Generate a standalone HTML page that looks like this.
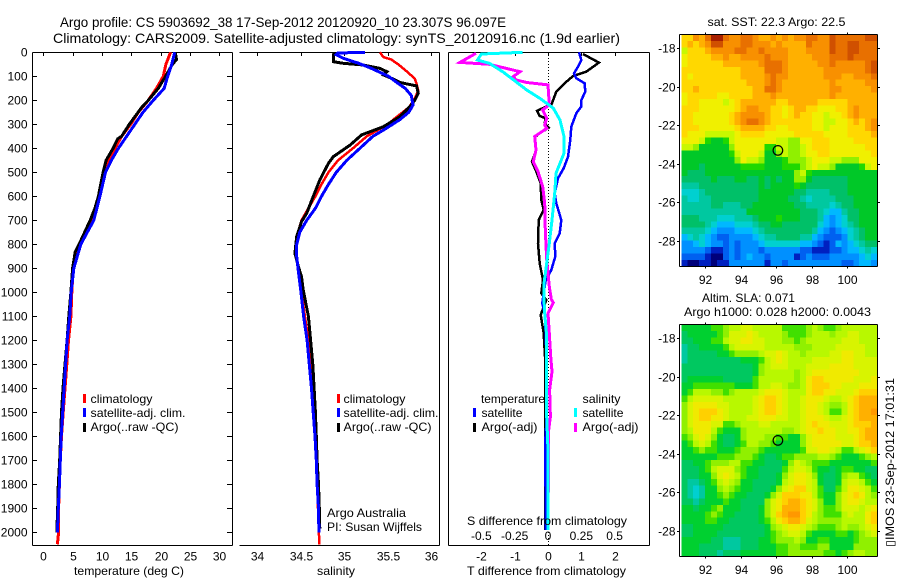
<!DOCTYPE html>
<html>
<head>
<meta charset="utf-8">
<title>Argo profile 5903692_38</title>
<style>
html,body{margin:0;padding:0;background:#fff;}
svg{display:block;}
text{font-family:"Liberation Sans",sans-serif;font-size:12px;fill:#000;}
.title{font-size:14px;}
</style>
</head>
<body>
<svg id="chart" width="900" height="580" viewBox="0 0 900 580" xmlns="http://www.w3.org/2000/svg">
<rect width="900" height="580" fill="#fff"/>
<text class="title" x="60" y="27" textLength="446" lengthAdjust="spacingAndGlyphs">Argo profile: CS 5903692_38 17-Sep-2012 20120920_10 23.307S 96.097E</text>
<text class="title" x="53" y="43" textLength="567" lengthAdjust="spacingAndGlyphs">Climatology: CARS2009. Satellite-adjusted climatology: synTS_20120916.nc (1.9d earlier)</text>

<g id="p1"></g>
<g id="p2"></g>
<g id="p3"></g>
<g id="m1"></g>
<g id="m2"></g>

<text x="74" y="575" textLength="110" lengthAdjust="spacingAndGlyphs">temperature (deg C)</text>
<text x="317" y="575" textLength="38" lengthAdjust="spacingAndGlyphs">salinity</text>
<text x="467" y="575" textLength="159" lengthAdjust="spacingAndGlyphs">T difference from climatology</text>
<text x="467" y="525" textLength="160" lengthAdjust="spacingAndGlyphs">S difference from climatology</text>

<g shape-rendering="crispEdges">
<rect x="83" y="394" width="3" height="9" fill="#f00"/><rect x="83" y="408" width="3" height="9" fill="#00f"/><rect x="83" y="423" width="3" height="9" fill="#000"/>
<text x="90.5" y="403" textLength="62" lengthAdjust="spacingAndGlyphs">climatology</text>
<text x="90.5" y="417" textLength="95" lengthAdjust="spacingAndGlyphs">satellite-adj. clim.</text>
<text x="90.5" y="431" textLength="88" lengthAdjust="spacingAndGlyphs">Argo(..raw -QC)</text>
</g>
<g shape-rendering="crispEdges">
<rect x="337" y="394" width="3" height="9" fill="#f00"/><rect x="337" y="408" width="3" height="9" fill="#00f"/><rect x="337" y="423" width="3" height="9" fill="#000"/>
<text x="343.5" y="403" textLength="62" lengthAdjust="spacingAndGlyphs">climatology</text>
<text x="343.5" y="417" textLength="95" lengthAdjust="spacingAndGlyphs">satellite-adj. clim.</text>
<text x="343.5" y="431" textLength="88" lengthAdjust="spacingAndGlyphs">Argo(..raw -QC)</text>
</g>
<g shape-rendering="crispEdges">
<text x="481" y="403" textLength="64" lengthAdjust="spacingAndGlyphs">temperature</text>
<rect x="473" y="408" width="3" height="9" fill="#00f"/><rect x="473" y="423" width="3" height="9" fill="#000"/>
<text x="481.5" y="417" textLength="41" lengthAdjust="spacingAndGlyphs">satellite</text>
<text x="481.5" y="431" textLength="56" lengthAdjust="spacingAndGlyphs">Argo(-adj)</text>
<text x="582.5" y="403" textLength="38" lengthAdjust="spacingAndGlyphs">salinity</text>
<rect x="574" y="408" width="3" height="9" fill="#0ff"/><rect x="574" y="423" width="3" height="9" fill="#f0f"/>
<text x="582.5" y="417" textLength="41" lengthAdjust="spacingAndGlyphs">satellite</text>
<text x="582.5" y="431" textLength="56" lengthAdjust="spacingAndGlyphs">Argo(-adj)</text>
</g>
<text x="327" y="517" textLength="79" lengthAdjust="spacingAndGlyphs">Argo Australia</text>
<text x="327" y="531" textLength="95" lengthAdjust="spacingAndGlyphs">PI: Susan Wijffels</text>

<text x="707.5" y="26" textLength="138" lengthAdjust="spacingAndGlyphs">sat. SST: 22.3 Argo: 22.5</text>
<text x="702" y="302" textLength="93" lengthAdjust="spacingAndGlyphs">Altim. SLA: 0.071</text>
<text x="684" y="316" textLength="187" lengthAdjust="spacingAndGlyphs">Argo h1000: 0.028 h2000: 0.0043</text>
<text transform="translate(894,547) rotate(-90)" textLength="169" lengthAdjust="spacingAndGlyphs">▯IMOS 23-Sep-2012 17:01:31</text>
</svg>

<script>
/* ---- axis tick data ---- */
const depthTicks = [0,100,200,300,400,500,600,700,800,900,1000,1100,1200,1300,1400,1500,1600,1700,1800,1900,2000];
const tempTicks = [0,5,10,15,20,25,30];
const salTicks = [34,34.5,35,35.5,36];
const salTickLabels = ['34','34.5','35','35.5','36'];
const tDiffTicks = [-2,-1,0,1,2];
const sDiffTicks = [-0.5,-0.25,0,0.25,0.5];
const sDiffTickLabels = ['-0.5','-0.25','0','0.25','0.5'];
const lonTicks = [92,94,96,98,100];
const latTicks = [18,20,22,24,26,28];
const argoLon = [96.097];
const argoLat = [23.307];

/* ---- temperature profiles ---- */
const tempClimDepth = [0,50,100,150,200,250,300,350,400,450,500,600,700,800,850,900,1000,1100,1200,1300,1400,1500,1600,1700,1800,1900,2000,2050];
const tempClim = [21.7,20.9,20.45,19.3,17.9,16.2,14.9,13.35,12.2,11.2,10.5,9.5,8.35,6.25,5.6,5.1,4.85,4.7,4.3,4.0,3.7,3.4,3.1,2.9,2.75,2.6,2.6,2.4];
const tempSatDepth = [0,50,100,150,200,250,300,350,400,450,500,600,700,800,850,900,1000,1100,1200,1300,1400,1500,1600,1700,1800,1900,2000];
const tempSat = [22.4,21.9,21.2,20.6,18.75,17.0,15.6,14.2,12.8,11.6,10.6,9.65,8.6,6.4,5.8,5.2,4.75,4.5,4.05,3.8,3.55,3.3,3.05,2.9,2.75,2.55,2.4];
const tempArgoDepth = [0,30,50,100,150,200,230,300,350,360,400,450,470,500,600,650,700,800,830,900,1000,1100,1200,1300,1400,1500,1600,1700,1800,1900,2000];
const tempArgo = [22.5,22.7,22.0,20.85,19.6,17.9,16.75,14.65,13.35,12.7,11.9,10.7,10.5,10.2,9.4,8.8,8.0,6.1,5.45,5.0,4.7,4.35,4.05,3.7,3.35,3.1,2.95,2.8,2.55,2.45,2.3];

/* ---- salinity profiles ---- */
const salClimDepth = [0,20,30,50,80,110,130,160,200,230,270,300,350,400,450,500,550,600,650,700,750,800,850,900,1000,1100,1200,1300,1400,1500,1600,1700,1800,1900,2000,2050];
const salClim = [35.41,35.45,35.54,35.62,35.72,35.81,35.83,35.85,35.80,35.74,35.6,35.5,35.26,35.10,34.93,34.82,34.74,34.67,34.59,34.51,34.47,34.455,34.45,34.47,34.51,34.55,34.59,34.615,34.635,34.655,34.665,34.68,34.69,34.70,34.71,34.715];
const salSatDepth = [0,3,10,25,45,65,100,130,150,180,220,250,280,320,350,400,450,500,550,600,650,700,750,800,850,900,1000,1100,1200,1300,1400,1500,1600,1700,1800,1900,2000];
const salSat = [35.24,34.93,34.91,34.99,35.16,35.30,35.51,35.62,35.70,35.77,35.79,35.74,35.64,35.47,35.33,35.18,35.03,34.91,34.82,34.74,34.67,34.57,34.49,34.455,34.455,34.47,34.505,34.535,34.575,34.6,34.625,34.645,34.665,34.68,34.69,34.705,34.71];
const salArgoDepth = [1,11,39,46,53,67,81,94,111,126,140,171,199,226,268,310,344,386,435,462,532,601,671,706,768,837,893,935,990,1100,1200,1300,1400,1500,1600,1700,1800,1900,1985];
const salArgo = [34.89,34.875,34.875,34.99,35.22,35.41,35.49,35.45,35.56,35.64,35.83,35.85,35.81,35.755,35.64,35.45,35.2,35.07,34.875,34.82,34.72,34.645,34.57,34.51,34.455,34.435,34.475,34.51,34.53,34.59,34.615,34.64,34.655,34.67,34.68,34.69,34.705,34.715,34.72];

/* ---- difference profiles ---- */
const tSatDiffDepth = [0,32,60,88,108,129,164,199,226,254,310,365,435,483,525,588,629,699,754,796,851,907,949,1004,1046,1087,1171,1268,1546,1615,1990];
const tSatDiff = [0.93,1.00,0.90,0.78,0.85,1.10,1.12,1.00,1.00,0.85,0.70,0.67,0.60,0.47,0.30,0.20,0.25,0.40,0.35,0.20,0.22,0.10,-0.07,-0.13,-0.17,-0.10,-0.07,-0.05,-0.05,-0.08,-0.07];
const tArgoDiffDepth = [7,43,81,99,129,164,219,226,244,265,275,296,314,337,354,407,456,497,546,615,657,699,796,879,949,1004,1032,1094,1171,1268,1657,1990];
const tArgoDiff = [1.05,1.53,1.15,0.75,0.50,0.25,0.10,-0.05,-0.33,-0.25,-0.07,-0.10,0.02,-0.25,-0.40,-0.35,-0.48,-0.35,-0.22,-0.20,-0.13,-0.28,-0.30,-0.25,-0.15,-0.20,-0.05,-0.22,-0.13,-0.09,-0.09,-0.08];
const sArgoDiffDepth = [4,42,50,81,101,115,126,136,219,240,275,303,317,351,407,456,497,560,629,740,865,976,1029,1043,1087,1171,1268,1330,1407,1518,1573,1990];
const sArgoDiff = [-0.54,-0.66,-0.44,-0.21,-0.26,-0.24,-0.16,0,0.01,-0.04,-0.01,-0.025,-0.01,-0.10,-0.09,-0.11,-0.075,-0.04,-0.025,-0.02,-0.01,0.01,0.025,0.04,0,0.01,0.02,0.03,0.012,0.018,0.005,0];
const sSatDiffDepth = [0,7,32,46,81,108,157,192,233,282,351,421,504,588,699,796,879,963,1029,1087,1184,1518,1657,1990];
const sSatDiff = [-0.19,-0.50,-0.53,-0.44,-0.34,-0.275,-0.16,-0.06,0.04,0.09,0.12,0.12,0.06,0.05,0.03,0.01,-0.01,-0.03,-0.03,-0.025,-0.01,-0.01,0,0];

/* ---- map colour levels (rows north to south) ---- */
const sstColors = ['#00007a','#0020c0','#0060f0','#0090ff','#00b8ff','#00d0d0','#00c8a0','#00c068','#00c828','#20d800','#90f000','#c8f800','#f0f000','#ffd800','#ffb000','#f89000','#e87000','#d05000','#a82000'];
const slaColors = ['#00007a','#0020c0','#0060f0','#0090ff','#00b8ff','#00d0d0','#00c8a0','#00c860','#00d030','#40e000','#90f000','#b8f800','#d8f400','#f0ea00','#ffd000','#ffb000','#ff9800','#d05000','#a82000'];
const sstGrid = [
[13,13,15,14,16,18,18,16,15,15,16,16,15,14,14,15,14,15,14,15,15,16,16,15,15,17,16,16,16,16,16,17,17],
[13,14,13,14,15,17,17,15,15,15,16,16,15,15,15,14,15,14,14,14,14,16,15,15,15,17,16,16,17,17,16,16,16],
[11,13,13,13,14,15,15,15,15,16,16,15,15,16,15,15,15,15,14,14,14,15,15,15,15,17,16,16,17,17,16,16,16],
[12,13,13,13,13,14,14,15,14,14,15,15,15,15,16,15,15,15,14,14,14,14,15,15,15,16,16,16,17,16,16,16,16],
[12,13,13,13,13,13,13,14,14,14,14,14,14,15,16,16,16,15,14,14,14,14,14,15,15,16,15,15,15,15,15,16,17],
[13,13,13,13,13,13,13,13,13,13,14,14,14,14,16,16,16,15,14,14,14,14,14,14,15,15,15,15,15,15,15,16,17],
[13,12,13,13,13,13,13,13,13,13,14,14,14,14,15,16,15,15,14,14,14,14,14,14,15,15,15,14,14,15,15,15,16],
[13,13,13,13,13,13,13,13,13,13,13,14,14,14,15,16,15,14,14,14,14,14,14,14,14,15,14,14,14,14,14,15,15],
[13,13,14,13,13,13,13,13,13,13,13,13,14,14,16,16,15,14,14,14,14,14,14,14,14,15,15,14,14,14,14,14,15],
[12,13,13,13,13,13,12,12,13,13,13,13,14,14,14,15,14,14,14,14,14,14,14,14,14,15,14,14,14,14,14,14,14],
[12,13,13,12,12,12,12,11,12,13,14,14,14,14,14,14,13,13,14,14,14,14,14,13,13,13,13,13,14,14,14,14,14],
[13,13,13,12,12,12,12,12,12,13,14,15,15,14,14,13,13,12,13,14,14,13,13,12,12,12,13,13,14,15,14,14,14],
[13,13,12,12,12,12,12,12,13,14,15,15,15,15,14,13,13,12,13,14,13,13,12,12,11,12,12,13,14,15,14,14,14],
[13,13,12,12,12,12,12,12,13,14,15,16,16,15,14,13,13,13,13,13,13,13,12,12,11,11,12,12,13,14,13,14,15],
[13,13,13,12,12,12,12,12,12,13,14,14,14,14,13,13,12,12,13,13,13,13,12,12,11,12,12,12,13,13,13,14,15],
[13,12,12,12,11,11,11,11,11,12,13,13,13,13,12,12,12,12,12,13,13,13,13,13,12,12,12,12,13,13,13,13,14],
[12,12,12,11,9,8,8,9,11,12,12,12,12,12,12,12,11,11,10,10,12,12,13,13,13,12,12,12,12,13,13,13,13],
[11,11,10,8,8,8,8,8,10,12,12,12,12,12,9,9,11,11,10,10,11,12,13,13,13,12,12,12,12,12,12,13,13],
[8,8,8,8,8,8,8,8,9,11,12,12,12,11,8,8,10,11,10,10,11,12,12,13,13,12,12,12,12,12,12,12,13],
[8,8,8,8,8,8,8,8,8,10,12,11,11,10,8,8,8,9,10,10,10,11,12,12,12,11,11,10,10,10,12,12,12],
[8,8,8,7,8,8,8,8,8,8,9,9,9,9,8,8,8,9,9,9,10,11,12,11,11,10,8,8,8,8,9,11,12],
[8,7,7,7,8,8,8,8,8,8,8,8,8,8,8,8,8,8,8,10,11,9,8,8,8,8,8,8,8,8,8,8,8],
[7,7,7,7,7,8,7,7,7,8,8,7,7,8,7,8,7,8,8,10,10,8,7,7,7,7,7,7,8,8,8,8,8],
[6,6,6,7,7,7,7,7,7,7,7,7,7,8,7,8,8,8,8,9,8,7,7,7,7,7,7,7,8,8,8,8,8],
[5,5,5,6,7,7,7,7,7,7,7,7,7,8,8,8,8,8,8,7,7,6,6,6,6,7,7,7,8,8,8,8,8],
[6,5,5,6,6,7,7,7,7,7,7,7,7,8,8,8,8,8,7,7,6,5,6,6,6,6,7,7,7,8,8,8,8],
[6,6,6,6,6,7,7,6,6,6,7,7,8,8,8,8,8,8,8,7,7,6,6,6,6,5,6,7,7,8,8,8,8],
[6,6,6,6,6,6,6,6,6,6,6,8,8,8,8,8,8,8,8,8,7,7,7,6,5,4,4,6,7,7,8,8,8],
[7,7,7,6,6,6,5,5,5,6,6,6,7,8,8,8,9,8,8,8,7,7,7,6,4,3,4,5,7,7,8,8,8],
[7,7,7,7,6,5,4,4,4,5,5,5,6,7,7,8,8,7,7,7,7,7,7,5,4,3,4,5,6,7,8,8,8],
[6,6,6,6,5,4,3,3,3,4,4,4,5,6,7,7,7,7,7,7,7,7,6,4,3,2,3,4,5,6,7,8,8],
[4,5,6,5,4,3,2,2,3,3,3,3,4,5,6,6,7,7,7,7,6,6,4,3,2,2,2,3,5,6,7,8,8],
[3,3,4,5,4,3,3,2,3,2,3,3,3,4,5,5,5,5,5,5,4,4,3,2,1,2,4,3,4,5,6,7,7],
[3,3,3,3,2,1,1,2,3,2,3,3,3,2,3,3,3,3,3,3,2,2,1,1,1,2,2,3,4,4,5,6,5],
[2,2,2,2,1,0,0,2,3,2,3,4,3,3,2,3,3,3,3,1,2,3,2,2,2,3,3,3,3,3,4,5,4],
[1,0,0,1,1,0,1,1,3,3,3,3,3,3,1,3,3,2,3,3,3,3,3,3,3,3,3,2,2,3,4,4,3]
];
const slaGrid = [
[8,8,8,8,8,9,9,10,11,11,12,12,11,11,11,11,11,9,9,9,9,10,11,10,9,9,10,11,11,11,11,11,11],
[7,8,8,8,8,8,9,10,12,12,12,13,12,11,11,11,11,10,9,9,9,10,11,11,11,10,11,11,12,12,11,11,11],
[7,7,8,8,8,9,9,11,12,12,13,13,12,12,11,11,11,10,10,9,10,11,11,11,11,11,11,12,12,12,11,11,11],
[6,7,7,8,8,8,8,9,11,12,12,12,12,12,11,11,11,11,11,10,10,10,11,11,11,11,12,12,12,12,12,11,11],
[6,7,7,7,7,7,8,8,9,10,10,10,10,11,12,12,13,12,11,11,10,11,11,11,11,12,12,13,13,12,12,11,11],
[6,7,7,7,7,7,7,7,7,7,8,8,8,9,11,12,13,12,11,11,11,11,12,12,12,12,12,13,13,12,12,12,12],
[7,7,7,7,7,7,7,7,7,7,7,7,8,10,11,12,12,12,11,11,11,12,12,12,12,13,13,13,13,12,12,12,12],
[7,7,7,7,7,7,7,7,7,7,7,7,8,10,11,11,11,11,11,10,11,12,13,13,13,13,13,13,13,13,12,12,12],
[7,8,8,8,8,8,8,7,7,7,7,7,9,11,11,11,11,11,11,10,11,13,14,14,13,13,13,13,13,12,12,12,13],
[8,8,9,9,9,9,9,9,9,8,8,8,9,11,11,12,12,11,10,10,11,13,14,14,14,13,13,12,12,12,13,13,13],
[8,9,11,11,11,10,10,9,10,11,11,11,11,12,13,13,13,12,11,11,11,13,14,14,13,13,12,12,12,13,14,14,14],
[9,11,12,12,12,12,12,11,11,11,11,11,12,13,14,14,13,12,11,11,12,13,13,13,12,11,11,12,13,14,15,15,15],
[10,12,13,13,13,13,12,12,11,11,11,11,12,13,14,14,13,12,11,11,12,13,13,12,11,10,10,11,13,14,15,15,15],
[10,12,13,14,14,14,13,12,11,11,11,11,12,13,14,14,13,12,11,11,12,13,13,12,11,9,9,11,13,14,15,15,16],
[10,12,13,14,14,13,13,12,11,11,11,12,12,13,13,13,12,12,11,11,12,13,13,13,12,11,11,12,13,14,15,15,15],
[10,12,13,13,13,12,12,9,9,10,11,11,11,12,12,11,11,11,11,11,12,13,14,13,13,12,12,12,13,14,14,14,15],
[10,11,13,13,13,11,9,8,8,8,10,11,11,11,11,11,11,10,10,11,12,13,13,14,13,13,12,12,13,13,14,15,15],
[9,10,12,13,12,10,8,7,7,8,10,11,11,11,10,10,9,9,8,8,10,12,13,13,13,13,12,12,12,13,14,15,15],
[8,9,11,12,11,9,8,7,7,8,9,11,11,10,10,9,8,8,8,8,10,12,13,13,13,13,13,12,12,13,14,14,15],
[8,8,9,10,9,9,8,8,8,9,10,10,10,9,8,8,8,8,8,8,9,12,12,13,13,12,11,9,9,11,12,13,14],
[8,8,8,8,8,8,9,9,9,10,10,10,9,8,7,7,8,9,9,10,10,10,10,11,11,10,9,8,8,8,9,10,11],
[7,7,8,8,9,10,10,10,11,11,9,9,8,8,7,7,7,8,10,12,11,10,9,9,9,8,8,8,8,8,8,8,9],
[7,7,7,8,9,11,12,12,12,10,9,8,8,7,7,7,7,9,11,12,12,11,9,8,8,7,8,9,9,8,8,7,7],
[7,7,7,8,8,10,12,13,12,11,9,8,8,7,7,7,8,10,12,13,13,12,10,8,7,7,8,10,11,11,9,8,7],
[7,6,6,7,8,9,11,12,11,10,8,8,7,7,7,7,8,11,12,13,13,12,11,8,7,7,8,11,12,12,11,9,8],
[7,6,5,6,8,8,10,11,10,9,8,8,7,7,7,8,10,12,13,14,14,12,11,9,7,7,9,11,13,13,12,11,9],
[7,6,5,6,8,8,9,10,9,8,8,7,7,7,8,10,12,14,14,14,13,13,11,9,8,8,10,12,13,14,13,11,10],
[7,7,6,7,8,8,8,9,8,8,7,7,7,7,10,12,13,14,15,15,14,13,12,10,8,8,10,12,13,13,12,11,11],
[8,8,7,8,8,9,10,8,8,8,7,7,7,8,10,12,13,15,15,15,14,13,12,10,9,9,10,12,12,12,11,12,13],
[8,8,8,8,9,10,9,8,8,7,7,7,7,8,10,12,14,15,16,16,14,13,11,10,9,9,9,11,12,11,11,13,14],
[8,8,8,8,9,9,8,8,7,7,7,7,7,8,9,11,13,14,15,15,14,12,11,10,10,10,10,11,11,11,11,13,14],
[7,7,8,8,8,8,8,7,7,7,7,7,7,7,8,10,11,12,13,13,12,11,10,9,9,9,10,11,10,10,11,12,13],
[7,7,8,8,8,8,7,7,7,7,7,7,7,7,8,9,10,11,12,12,11,9,8,8,8,8,9,9,8,9,10,11,12],
[8,8,8,8,8,7,7,6,6,6,7,7,7,8,8,9,10,10,10,11,10,8,8,9,9,8,8,8,8,9,10,10,10],
[8,8,8,7,7,7,7,6,6,6,7,7,7,8,8,8,9,9,10,10,9,9,9,10,10,8,8,8,8,10,10,10,10],
[8,8,8,7,7,7,6,7,7,7,8,8,8,8,8,8,9,9,10,10,10,10,10,10,9,9,8,9,10,11,11,10,10]
];

/* ---- scales ---- */
const NS = 'http://www.w3.org/2000/svg';
function yDepth(d){ return 52.3 + d*0.24; }
function xTemp(t){ return 43.3 + t*5.867; }
function xSal(s){ return 257 + (s-34)*87.17; }
function xTDiff(t){ return 548 + t*33.3; }
function xSDiff(s){ return 548 + s*133.3; }
function xLon(lon){ return 705 + (lon-92)*17.79; }
function yLat(lat, top){ return top + 14 + (lat-18)*19.3; }

function mk(parent, tag){
  const el = document.createElementNS(NS, tag);
  parent.appendChild(el);
  return el;
}
function axisLine(parent, x1, y1, x2, y2){
  const l = mk(parent, 'line');
  l.setAttribute('x1', x1); l.setAttribute('y1', y1);
  l.setAttribute('x2', x2); l.setAttribute('y2', y2);
  l.setAttribute('stroke', '#000');
  l.setAttribute('stroke-width', 1);
  l.setAttribute('shape-rendering', 'crispEdges');
  
  
  return l;
}
function tickLabel(parent, x, y, str, anchor){
  const t = mk(parent, 'text');
  t.setAttribute('x', x); t.setAttribute('y', y);
  t.setAttribute('text-anchor', anchor);
  t.textContent = str;
  
  
  return t;
}
function profile(parent, depths, vals, xf, color, w, name){
  const p = mk(parent, 'polyline');
  p.setAttribute('points', depths.map((d,i)=> xf(vals[i]).toFixed(1)+','+yDepth(d).toFixed(1)).join(' '));
  p.setAttribute('fill', 'none');
  p.setAttribute('stroke', color);
  p.setAttribute('stroke-width', w);
  p.setAttribute('stroke-linejoin', 'miter');
  p.setAttribute('shape-rendering', 'crispEdges');
  
  
}

const p1 = document.getElementById('p1');
const p2 = document.getElementById('p2');
const p3 = document.getElementById('p3');

/* panel 1 frame */
axisLine(p1, 32.5, 52.5, 232.5, 52.5);
axisLine(p1, 32.5, 545.5, 232.5, 545.5);
axisLine(p1, 32.5, 52.5, 32.5, 545.5);
axisLine(p1, 232.5, 52.5, 232.5, 545.5);
depthTicks.forEach(d=>{
  const y = Math.round(yDepth(d))+0.5;
  axisLine(p1, 32.5, y, 37, y);
  axisLine(p1, 227, y, 232.5, y);
  tickLabel(p1, 27.5, y+4, String(d), 'end');
});
tempTicks.forEach(t=>{
  const x = Math.round(xTemp(t))+0.5;
  axisLine(p1, x, 52.5, x, 56);
  tickLabel(p1, x, 560.5, String(t), 'middle');
});
profile(p1, tempClimDepth, tempClim, xTemp, '#f00', 3, 'temperature-climatology-line');
profile(p1, tempArgoDepth, tempArgo, xTemp, '#000', 3, 'temperature-argo-line');
profile(p1, tempSatDepth, tempSat, xTemp, '#00f', 3, 'temperature-satellite-line');

/* panel 2 frame */
axisLine(p2, 239.5, 52.5, 439.5, 52.5);
axisLine(p2, 239.5, 545.5, 439.5, 545.5);
axisLine(p2, 439.5, 52.5, 439.5, 545.5);
salTicks.forEach((s,i)=>{
  const x = Math.round(xSal(s))+0.5;
  axisLine(p2, x, 52.5, x, 56);
  tickLabel(p2, x, 560.5, salTickLabels[i], 'middle');
});
profile(p2, salClimDepth, salClim, xSal, '#f00', 2.5, 'salinity-climatology-line');
profile(p2, salArgoDepth, salArgo, xSal, '#000', 3, 'salinity-argo-line');
profile(p2, salSatDepth, salSat, xSal, '#00f', 3, 'salinity-satellite-line');

/* panel 3 frame */
axisLine(p3, 448.5, 52.5, 649.5, 52.5);
axisLine(p3, 448.5, 545.5, 649.5, 545.5);
axisLine(p3, 448.5, 52.5, 448.5, 545.5);
axisLine(p3, 649.5, 52.5, 649.5, 545.5);
tDiffTicks.forEach(t=>{
  const x = Math.round(xTDiff(t))+0.5;
  axisLine(p3, x, 52.5, x, 56);
  tickLabel(p3, x, 560.5, String(t), 'middle');
});
sDiffTicks.forEach((s,i)=>{
  tickLabel(p3, xSDiff(s), 540, sDiffTickLabels[i], 'middle');
});
const zero = mk(p3, 'line');
zero.setAttribute('x1', 548.5); zero.setAttribute('x2', 548.5);
zero.setAttribute('y1', 52); zero.setAttribute('y2', 545);
zero.setAttribute('stroke', '#000');
zero.setAttribute('stroke-dasharray', '1 2');
zero.setAttribute('shape-rendering', 'crispEdges');


profile(p3, tArgoDiffDepth, tArgoDiff, xTDiff, '#000', 2.5, 't-argo-difference-line');
profile(p3, tSatDiffDepth, tSatDiff, xTDiff, '#00f', 2.5, 't-satellite-difference-line');
profile(p3, sArgoDiffDepth, sArgoDiff, xSDiff, '#f0f', 3, 's-argo-difference-line');
profile(p3, sSatDiffDepth, sSatDiff, xSDiff, '#0ff', 3, 's-satellite-difference-line');

/* maps */
function drawMap(gid, grid, top, colors){
  const g = document.getElementById(gid);
  const cellW = 17.79/3, cellH = 19.3/3;
  const cells = mk(g, 'g');
  cells.setAttribute('shape-rendering', 'crispEdges');
  
  
  grid.forEach((row,r)=>{
    row.forEach((v,c)=>{
      const x0 = xLon(90.67 + c/3);
      const y0 = yLat(17.31 + r/3, top);
      const rc = mk(cells, 'rect');
      rc.setAttribute('x', x0.toFixed(2));
      rc.setAttribute('y', y0.toFixed(2));
      rc.setAttribute('width', (cellW+0.4).toFixed(2));
      rc.setAttribute('height', (cellH+0.4).toFixed(2));
      rc.setAttribute('fill', colors[v]);
      
      
    });
  });
  const bottom = top + 232;
  axisLine(g, 679.5, top+.5, 877.5, top+.5);
  axisLine(g, 679.5, bottom+.5, 877.5, bottom+.5);
  axisLine(g, 679.5, top+.5, 679.5, bottom+.5);
  axisLine(g, 877.5, top+.5, 877.5, bottom+.5);
  lonTicks.forEach(lon=>{
    const x = Math.round(xLon(lon))+0.5;
    axisLine(g, x, top-1.5, x, top+.5);
    axisLine(g, x, bottom+.5, x, bottom+2.5);
    tickLabel(g, x, bottom+18, String(lon), 'middle');
  });
  latTicks.forEach(lat=>{
    const y = Math.round(yLat(lat, top))+0.5;
    axisLine(g, 677, y, 679.5, y);
    axisLine(g, 877.5, y, 880, y);
    tickLabel(g, 675.5, y+4, '-'+lat, 'end');
  });
  const cir = mk(g, 'circle');
  cir.setAttribute('cx', xLon(argoLon[0]).toFixed(1));
  cir.setAttribute('cy', yLat(argoLat[0], top).toFixed(1));
  cir.setAttribute('r', 4.8);
  cir.setAttribute('fill', 'none');
  cir.setAttribute('stroke', '#000');
  cir.setAttribute('stroke-width', 1.2);
  
  
}
drawMap('m1', sstGrid, 34, sstColors);
drawMap('m2', slaGrid, 324, slaColors);
</script>
</body>
</html>
